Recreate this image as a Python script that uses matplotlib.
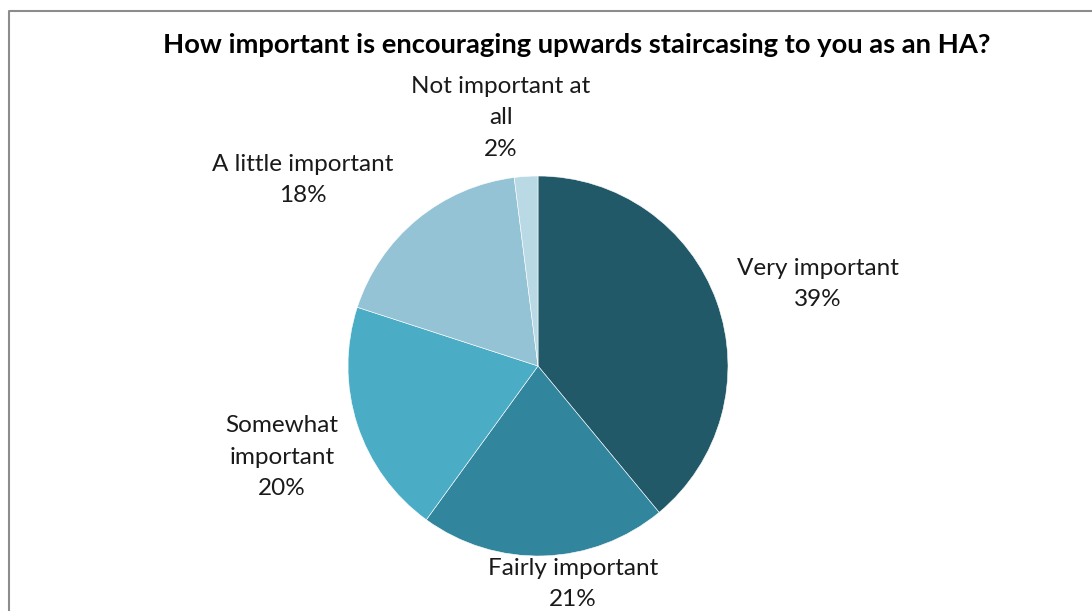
import matplotlib.pyplot as plt
from matplotlib.lines import Line2D

# survey answers, clockwise from 12 o'clock
categories = ['Very important', 'Fairly important', 'Somewhat\nimportant',
              'A little important', 'Not important at\nall']
shares = [39, 21, 20, 18, 2]
colors = ['#215968', '#31859C', '#4BACC6', '#93C3D4', '#B9D9E5']

# label centres in pixels (x, y from top)
label_pos = [(818, 284), (573, 584), (282, 457), (303, 180), (501, 118)]

W, H = 1092, 611
plt.rcParams['font.family'] = ['Lato', 'DejaVu Sans']

fig = plt.figure(figsize=(W / 100, H / 100), dpi=100)
ax = fig.add_axes([0, 0, 1, 1])

ax.pie(shares, colors=colors, startangle=90, counterclock=False,
       center=(538, H - 366), radius=190,
       wedgeprops=dict(linewidth=0.4, edgecolor='white'))

# pie() resets limits, so set them afterwards
ax.set_xlim(0, W)
ax.set_ylim(0, H)
ax.set_aspect('equal')
ax.axis('off')

for cat, val, (x, y) in zip(categories, shares, label_pos):
    ax.text(x, H - y, f'{cat}\n{val}%', ha='center', va='center',
            fontsize=17.5, linespacing=1.6, color='#1a1a1a')

ax.text(577, H - 45, 'How important is encouraging upwards staircasing to you as an HA?',
        ha='center', va='center', fontsize=19.7, fontweight='bold')

# chart frame, cut off at right and bottom
fig.add_artist(Line2D([9 / W, 9 / W, 1], [0, 1 - 11 / H, 1 - 11 / H],
                      transform=fig.transFigure, color='#8c8c8c', lw=1.5))

fig.savefig('out.png', dpi=100)
